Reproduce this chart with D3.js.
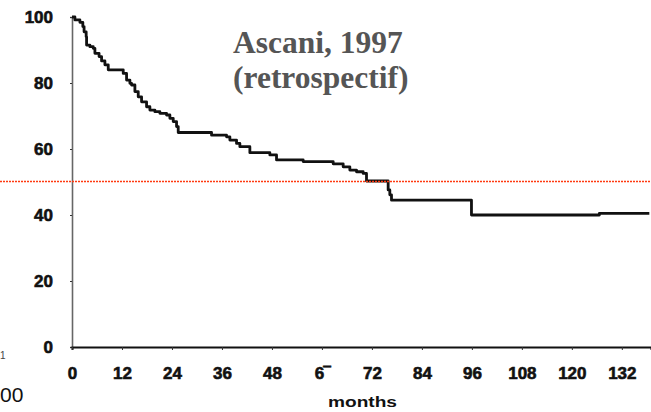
<!DOCTYPE html>
<html><head><meta charset="utf-8">
<script src="https://cdn.jsdelivr.net/npm/d3@7"></script>
<style>
html,body{margin:0;padding:0;background:#fff;}
svg{display:block;}
</style></head>
<body>
<svg id="c" width="651" height="412"></svg>
<script>
// Survival (%) by months — Kaplan-Meier step points
const months = [0,0.7,1.9,2.6,2.9,3.4,3.5,4.3,5.1,5.5,6.5,7.1,7.9,8.7,12.3,13.1,13.9,14.3,15.1,15.9,16.7,17.9,18.7,19.9,21.1,22.7,23.5,24.3,25.1,25.5,33.5,37.1,37.9,39.5,40.3,42.7,47.5,49.1,55.5,62.7,65.1,66.7,68.3,69.9,70.7,75.9,76.3,76.7,95.9,126.6,138.6];
const survival = [100,99.1,98.4,97.1,95.5,94.0,91.5,91.0,90.5,89.0,88.0,86.7,85.5,84.0,82.9,80.9,79.9,79.4,77.4,75.8,74.3,72.8,71.8,71.3,70.8,70.3,69.3,68.3,66.8,65.0,64.2,63.7,62.7,61.7,60.7,58.9,58.2,56.7,56.2,55.5,54.6,53.6,53.1,52.6,50.3,47.6,46.1,44.5,40.0,40.5,40.5];
const xTickValues = [0,12,24,36,48,60,72,84,96,108,120,132];
const xTickLabels = ["0","12","24","36","48","6\u203E","72","84","96","108","120","132"];
const yTickValues = [0,20,40,60,80,100];
const yTickLabels = ["0","20","40","60","80","100"];
const titleLines = ["Ascani, 1997","(retrospectif)"];
const xAxisTitle = "months";
const refLineValue = 50.3;

const svg = d3.select("#c");
const x = d3.scaleLinear().domain([0,139]).range([72,651]);
const y = d3.scaleLinear().domain([0,100]).range([347,17]);

// y axis
const yAxis = d3.axisLeft(y).tickValues(yTickValues)
  .tickFormat((d,i)=>yTickLabels[i]).tickSize(2).tickPadding(17);
const gy = svg.append("g").attr("transform","translate(72,0)").call(yAxis);
gy.select(".domain").attr("stroke","#666").attr("stroke-width",1.6);
gy.selectAll(".tick line").attr("stroke","#333");
gy.selectAll("text").attr("font-family","Liberation Sans, Arial, sans-serif")
  .attr("font-weight","bold").attr("font-size",17).attr("fill","#111")
  .attr("stroke","#111").attr("stroke-width",0.6);

// x axis
const xAxis = d3.axisBottom(x).tickValues(xTickValues)
  .tickFormat((d,i)=>xTickLabels[i]).tickSize(3).tickPadding(17);
const gx = svg.append("g").attr("transform","translate(0,347)").call(xAxis);
gx.select(".domain").attr("stroke","#111").attr("stroke-width",2);
gx.selectAll(".tick line").attr("stroke","#333");
gx.selectAll("text").attr("font-family","Liberation Sans, Arial, sans-serif")
  .attr("font-weight","bold").attr("font-size",17).attr("fill","#111")
  .attr("stroke","#111").attr("stroke-width",0.6);

// survival curve
const pts = months.map((m,i)=>[m,survival[i]]);
const line = d3.line().x(d=>x(d[0])).y(d=>y(d[1])).curve(d3.curveStepAfter);
svg.append("path").datum(pts).attr("d",line)
  .attr("fill","none").attr("stroke","#111").attr("stroke-width",2.8)
  .attr("stroke-linejoin","round");

// reference dotted line (drawn on top, as in the reference)
const ry = Math.round(y(refLineValue)) + 0.5;
svg.append("line")
  .attr("x1",0).attr("x2",651).attr("y1",ry).attr("y2",ry)
  .attr("stroke","#ff3a10").attr("stroke-width",1.5)
  .attr("stroke-dasharray","2,1");

// x axis title
svg.append("text").attr("x",328).attr("y",407).text(xAxisTitle)
  .attr("font-family","Liberation Sans, Arial, sans-serif").attr("font-weight","bold")
  .attr("font-size",14).attr("fill","#111")
  .attr("textLength",69).attr("lengthAdjust","spacingAndGlyphs");

// title
svg.selectAll("text.title").data(titleLines).enter().append("text")
  .attr("class","title").attr("x",233).attr("y",(d,i)=>53+i*35)
  .text(d=>d).attr("font-family","Liberation Serif, Times New Roman, serif")
  .attr("font-weight","bold").attr("font-size",31.5).attr("fill","#555");

// fragments at the left edge
svg.append("text").attr("x",0).attr("y",402).text("00")
  .attr("font-family","Liberation Sans, Arial, sans-serif").attr("font-size",21).attr("fill","#111");
svg.append("text").attr("x",0).attr("y",359).text("1")
  .attr("font-family","Liberation Sans, Arial, sans-serif").attr("font-size",10).attr("fill","#444");
</script>
</body></html>
